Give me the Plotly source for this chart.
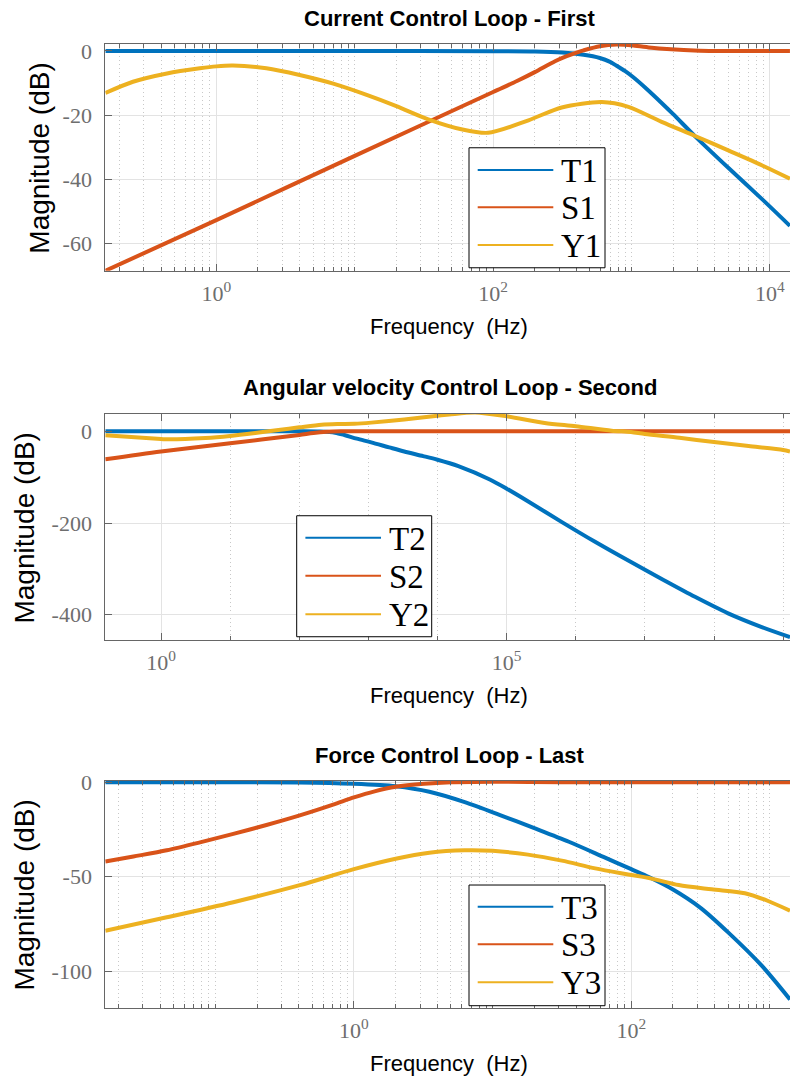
import plotly.graph_objects as go

# ---------------- data ----------------
# Subplot 1 : Current Control Loop - First
f_T1 = [0.158, 1, 10, 100, 200, 316, 450, 590, 700, 780, 900, 1030, 1300, 1650, 2000, 2880, 5000, 8730, 13950]
T1 = [0, 0, 0, -0.05, -0.15, -0.5, -1.2, -2.2, -3.4, -4.6, -6.3, -8.2, -12.0, -16.2, -19.7, -26.6, -36.4, -46.1, -54.5]
f_S1 = [0.158, 1, 10, 100, 150, 200, 280, 340, 400, 450, 590, 780, 1030, 1400, 1800, 3100, 5000, 13950]
S1 = [-68.5, -52.7, -32.7, -12.8, -9.3, -6.6, -3.2, -1.6, -0.5, 0.2, 1.5, 2.0, 1.7, 1.0, 0.6, 0.1, 0, 0]
f_Y1 = [0.158, 0.25, 0.44, 0.76, 1.0, 1.32, 2.3, 4.0, 7.0, 12.2, 20, 34, 59, 92, 180, 313, 610, 950, 1650, 2880, 5000, 8730, 13950]
Y1 = [-13.1, -9.6, -7.0, -5.4, -4.8, -4.55, -5.4, -7.5, -10.2, -13.7, -17.2, -21.3, -24.4, -25.5, -21.6, -17.6, -15.9, -17.4, -22.1, -26.5, -31.0, -35.6, -39.8]

# Subplot 2 : Angular velocity Control Loop - Second
f_T2 = [0.156, 10, 100, 200, 330, 450, 680, 1100, 2000, 3300, 6200, 10000, 20000, 57000, 1e5, 2e5, 6.3e5, 1.9e6, 5.75e6, 1.75e7, 5.3e7, 1.6e8, 4.9e8, 1.256e9]
T2 = [0, 0, 0, -0.5, -3, -8, -16, -24, -35, -44, -54, -62, -76, -105, -125, -152, -198, -241, -282, -322, -361, -397, -427, -449]
f_S2 = [0.156, 1, 10, 100, 160, 250, 400, 1000, 1e5, 1.256e9]
S2 = [-61, -44, -26, -7.8, -3.5, -1.0, 0, 0, 0, 0]
f_Y2 = [0.156, 1, 1.26, 4.4, 10, 23, 50, 100, 210, 360, 630, 1100, 3300, 10000, 14800, 35000, 1e5, 3.55e5, 1e6, 3.3e6, 6.3e6, 1e7, 3.16e7, 1e8, 3.16e8, 1e9, 1.256e9]
Y2 = [-8.7, -16.7, -17.5, -14.5, -10, -3.6, 3, 8.7, 14.5, 16, 16.5, 19, 26, 34, 36.5, 41, 32.7, 18.2, 11, 1.5, -1.5, -6, -14, -23.5, -32, -40.5, -44]

# Subplot 3 : Force Control Loop - Last
f_T3 = [0.0161, 0.1, 0.4, 1, 2, 3.5, 6.3, 11.2, 20, 35.5, 63, 100, 135, 200, 316, 500, 870, 1396]
T3 = [0, 0, -0.1, -0.8, -2.1, -5.0, -10.5, -17.2, -24.3, -31.5, -39.5, -46, -50.3, -56.8, -66.5, -79.5, -97, -115]
f_S3 = [0.0161, 0.0257, 0.0447, 0.0776, 0.135, 0.234, 0.407, 0.708, 1, 1.41, 2, 3.2, 5, 10, 31.6, 100, 1396]
S3 = [-42, -39.3, -36.0, -31.8, -27.3, -22.6, -17.5, -11.8, -8.0, -4.8, -2.4, -0.8, 0, 0.3, 0.1, 0, 0]
f_Y3 = [0.0161, 0.0447, 0.135, 0.407, 1, 2, 3.5, 6.3, 10, 18, 31.6, 55, 95, 140, 220, 380, 660, 980, 1396]
Y3 = [-78.6, -71.5, -63.5, -54.5, -46, -40.5, -37.3, -36, -36.3, -38.3, -41.5, -45.6, -48.8, -51, -54.4, -56.7, -58.8, -63, -68]

titles = ["Current Control Loop - First", "Angular velocity Control Loop - Second", "Force Control Loop - Last"]
series_names = [["T1", "S1", "Y1"], ["T2", "S2", "Y2"], ["T3", "S3", "Y3"]]
x_ticks = [[1, 100, 10000], [1, 1e5], [1, 100]]
x_ticktext = [["10<sup>0</sup>", "10<sup>2</sup>", "10<sup>4</sup>"], ["10<sup>0</sup>", "10<sup>5</sup>"], ["10<sup>0</sup>", "10<sup>2</sup>"]]
y_ticks = [[-60, -40, -20, 0], [-400, -200, 0], [-100, -50, 0]]

# ---------------- styling ----------------
W, H = 790, 1078
# the page is shown with a 10 px band above the figure and squeezed to 1078 px;
# these two numbers compensate for it when placing things by their target pixel.
Y_OFF = 10
Y_SCALE = (H + Y_OFF) / H
COLORS = ["#0072BD", "#D95319", "#EDB120"]
AXC = "#666666"
TICKC = "#6e6e6e"
GRID = "#e3e3e3"
MGRID = "#c8c8c8"
SERIF = "Liberation Serif, Times New Roman, serif"
SANS = "Liberation Sans, Arial, Helvetica, sans-serif"


def px(x):
    return x / W


def py(y):
    return 1 - (y * Y_SCALE - Y_OFF) / H


axes_px = [(43.5, 270.7), (414.0, 640.0), (780.5, 1007.7)]
x_ranges = [[-0.802, 4.145], [-0.806, 9.099], [-1.793, 3.145]]
y_ranges = [[-68.5, 2.3], [-455.3, 37.7], [-119.4, 0.95]]

minor_vals = []
m1 = [k * 10.0 ** n for n in range(-1, 5) for k in range(1, 10)]
minor_vals.append([v for v in m1 if v not in (1, 100, 10000) and 0.158 <= v <= 13950])
minor_vals.append([10.0 ** n for n in range(1, 10) if n != 5])
m3 = [k * 10.0 ** n for n in range(-2, 4) for k in range(1, 10)]
minor_vals.append([v for v in m3 if v not in (1, 100) and 0.0161 <= v <= 1396])

data = [
    [(f_T1, T1), (f_S1, S1), (f_Y1, Y1)],
    [(f_T2, T2), (f_S2, S2), (f_Y2, Y2)],
    [(f_T3, T3), (f_S3, S3), (f_Y3, Y3)],
]

fig = go.Figure()
layout = dict(
    width=W, height=H, margin=dict(l=0, r=0, t=0, b=0),
    paper_bgcolor="white", plot_bgcolor="white", showlegend=False,
)

for i in range(3):
    sfx = "" if i == 0 else str(i + 1)
    for j, (fx, fy) in enumerate(data[i]):
        fig.add_trace(go.Scatter(
            x=fx, y=fy, mode="lines", name=series_names[i][j],
            line=dict(color=COLORS[j], width=4, shape="spline", smoothing=0.8),
            xaxis="x" + sfx, yaxis="y" + sfx, showlegend=False,
        ))
    top, bot = axes_px[i]
    layout["xaxis" + sfx] = dict(
        type="log", range=x_ranges[i], domain=[px(105.3), 1.0], anchor="y" + sfx,
        tickvals=x_ticks[i], ticktext=x_ticktext[i], tickmode="array",
        ticks="inside", ticklen=7, tickcolor=AXC, tickwidth=1,
        showline=True, linecolor=AXC, linewidth=1, mirror="ticks",
        showgrid=True, gridcolor=GRID, gridwidth=1, zeroline=False,
        tickfont=dict(family=SERIF, size=22, color=TICKC),
        ticklabelstandoff=3,
        minor=dict(tickmode="array", tickvals=minor_vals[i], ticks="inside", ticklen=4,
                   tickcolor=AXC, showgrid=True, gridcolor=MGRID, griddash="1px,3px", gridwidth=1),
    )
    layout["yaxis" + sfx] = dict(
        range=y_ranges[i], domain=[py(bot), py(top)], anchor="x" + sfx,
        tickmode="array", tickvals=y_ticks[i], ticktext=[str(v) for v in y_ticks[i]],
        ticks="inside", ticklen=7, tickcolor=AXC, tickwidth=1,
        showline=True, linecolor=AXC, linewidth=1, mirror=False,
        showgrid=True, gridcolor=GRID, gridwidth=1, zeroline=False,
        tickfont=dict(family=SERIF, size=22, color=TICKC),
        ticklabelstandoff=8,
    )

annotations = []
shapes = []

title_y = [18.5, 387.3, 755.7]
xlabel_y = [326, 695, 1063]
ylabel_x = [39.5, 24.5, 24.5]
for i in range(3):
    top, bot = axes_px[i]
    annotations.append(dict(text="<b>" + titles[i] + "</b>", x=px(449.5), y=py(title_y[i]),
                            xref="paper", yref="paper", xanchor="center", yanchor="middle",
                            showarrow=False, font=dict(family=SANS, size=22, color="black")))
    annotations.append(dict(text="Frequency  (Hz)", x=px(448.8), y=py(xlabel_y[i]),
                            xref="paper", yref="paper", xanchor="center", yanchor="middle",
                            showarrow=False, font=dict(family=SANS, size=22, color="black")))
    annotations.append(dict(text="Magnitude (dB)", x=px(ylabel_x[i]), y=py((top + bot) / 2 + 1),
                            xref="paper", yref="paper", xanchor="center", yanchor="middle",
                            textangle=-90, showarrow=False,
                            font=dict(family=SANS, size=28, color="black")))

# legends (box, sample lines, labels)
legend_boxes = [(469, 147.7, 605, 267.7), (296.7, 515.7, 431.7, 636.7), (469, 885, 605, 1005.7)]
legend_rows = [(170, 207.3, 245), (537.7, 575.7, 614.3), (906.7, 944.3, 982.3)]
for i in range(3):
    x0, y0, x1, y1 = legend_boxes[i]
    shapes.append(dict(type="rect", xref="paper", yref="paper", x0=px(x0), x1=px(x1), y0=py(y1), y1=py(y0),
                       line=dict(color="black", width=1), fillcolor="white", layer="above"))
    for j in range(3):
        ry = legend_rows[i][j]
        shapes.append(dict(type="line", xref="paper", yref="paper", x0=px(x0 + 8.7), x1=px(x0 + 84.3),
                           y0=py(ry), y1=py(ry), line=dict(color=COLORS[j], width=2), layer="above"))
        annotations.append(dict(text=series_names[i][j], x=px(x0 + 90), y=py(ry + 1),
                                xref="paper", yref="paper", xanchor="left", yanchor="middle",
                                showarrow=False, font=dict(family=SERIF, size=33, color="black")))

layout["annotations"] = annotations
layout["shapes"] = shapes
fig.update_layout(**layout)
fig.write_html(
    "out.html",
    config={"displayModeBar": False, "responsive": False},
    post_script=(
        "var de=document.documentElement;de.style.margin='0';de.style.padding='0';de.style.overflow='hidden';"
        "var b=document.body;b.style.margin='0';b.style.padding='0';b.style.overflow='hidden';"
    ),
)
